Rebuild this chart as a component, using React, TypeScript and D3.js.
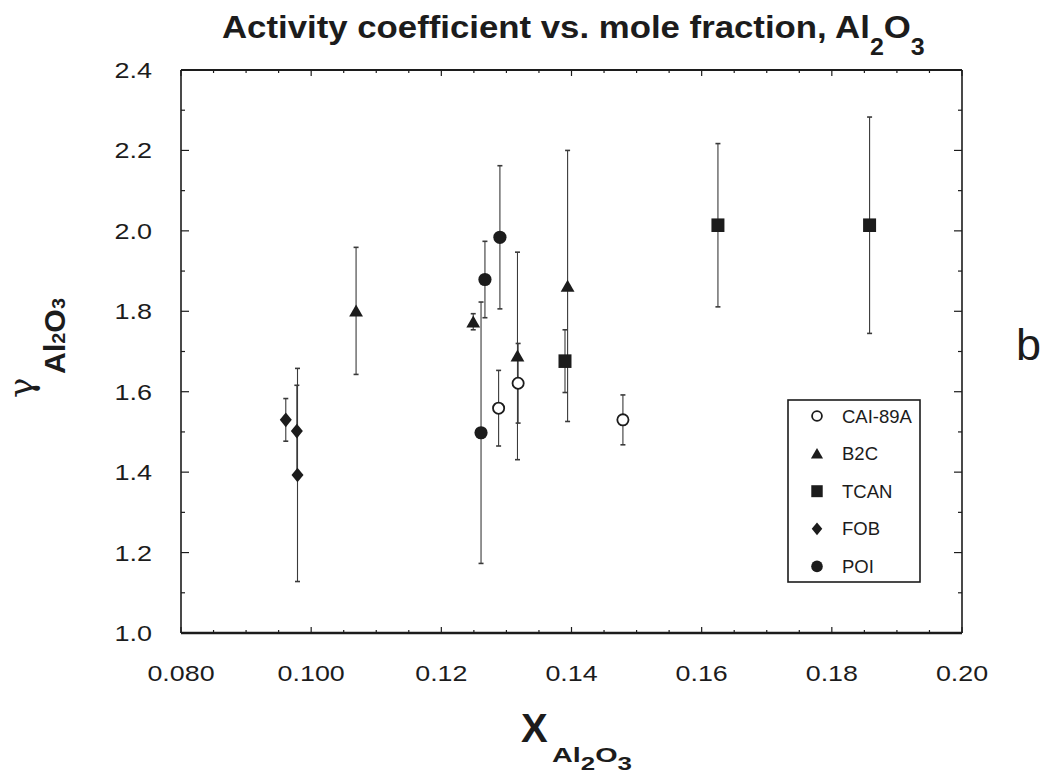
import React, { useEffect, useRef } from "react";
import * as d3 from "d3";

const W = 1050;
const H = 774;

// ---- data ----
const seriesNames = ["CAI-89A", "B2C", "TCAN", "FOB", "POI"];
const seriesShapes = ["openCircle", "triangle", "square", "diamond", "circle"];

const caiX = [0.1288, 0.1318, 0.1479];
const caiY = [1.559, 1.621, 1.53];
const caiErr = [0.094, 0.099, 0.062];

const b2cX = [0.1069, 0.1249, 0.1317, 0.1394];
const b2cY = [1.801, 1.774, 1.689, 1.863];
const b2cErr = [0.158, 0.02, 0.258, 0.337];

const tcanX = [0.139, 0.1625, 0.1858];
const tcanY = [1.676, 2.014, 2.014];
const tcanErr = [0.078, 0.203, 0.269];

const fobX = [0.0961, 0.0978, 0.0979];
const fobY = [1.53, 1.502, 1.393];
const fobErr = [0.053, 0.114, 0.265];

const poiX = [0.1261, 0.1267, 0.129];
const poiY = [1.498, 1.879, 1.984];
const poiErr = [0.325, 0.095, 0.178];

const xTicks = [0.08, 0.1, 0.12, 0.14, 0.16, 0.18, 0.2];
const xTickLabels = ["0.080", "0.100", "0.12", "0.14", "0.16", "0.18", "0.20"];
const yTicks = [1.0, 1.2, 1.4, 1.6, 1.8, 2.0, 2.2, 2.4];
const yTickLabels = ["1.0", "1.2", "1.4", "1.6", "1.8", "2.0", "2.2", "2.4"];

const X_DOMAIN = [0.08, 0.2];
const Y_DOMAIN = [1.0, 2.4];

const INK = "#1c1c1c";
const FONT = "'Liberation Sans', Arial, Helvetica, sans-serif";

function markerPath(shape: string, s: number): string {
  const p = d3.path();
  if (shape === "triangle") {
    p.moveTo(0, -6.3 * s);
    p.lineTo(6.9 * s, 5.7 * s);
    p.lineTo(-6.9 * s, 5.7 * s);
    p.closePath();
  } else if (shape === "square") {
    p.rect(-6.5 * s, -6.8 * s, 13 * s, 13.6 * s);
  } else if (shape === "diamond") {
    p.moveTo(0, -7.3 * s);
    p.lineTo(6 * s, 0);
    p.lineTo(0, 7.3 * s);
    p.lineTo(-6 * s, 0);
    p.closePath();
  }
  return p.toString();
}

function drawMarker(g: any, shape: string, cx: number, cy: number, s = 1) {
  if (shape === "openCircle") {
    g.append("circle")
      .attr("cx", cx)
      .attr("cy", cy)
      .attr("r", 5.6 * s)
      .attr("fill", "#fff")
      .attr("stroke", INK)
      .attr("stroke-width", 1.8);
  } else if (shape === "circle") {
    g.append("circle")
      .attr("cx", cx)
      .attr("cy", cy)
      .attr("r", 6.6 * s)
      .attr("fill", INK);
  } else {
    g.append("path")
      .attr("d", markerPath(shape, s))
      .attr("transform", `translate(${cx},${cy})`)
      .attr("fill", INK);
  }
}

export default function App() {
  const ref = useRef<SVGSVGElement | null>(null);

  useEffect(() => {
    const svg = d3.select(ref.current);
    svg.selectAll("*").remove();

    const left = 181,
      right = 962,
      top = 70,
      bottom = 633;
    const x = d3.scaleLinear().domain(X_DOMAIN).range([left, right]);
    const y = d3.scaleLinear().domain(Y_DOMAIN).range([bottom, top]);

    svg.append("rect").attr("width", W).attr("height", H).attr("fill", "#fff");

    // ---- title ----
    const title = svg
      .append("text")
      .attr("font-family", FONT)
      .attr("font-weight", "bold")
      .attr("fill", INK)
      .attr("font-size", 32);
    title.append("tspan").text("Activity coefficient vs. mole fraction, Al");
    title.append("tspan").attr("font-size", 23).attr("dy", 17).text("2");
    title.append("tspan").attr("dy", -17).text("O");
    title.append("tspan").attr("font-size", 23).attr("dy", 17).text("3");
    const tw = (title.node() as SVGTextElement).getBBox().width;
    title.attr("transform", `translate(222,38) scale(${703 / tw},1)`);

    // ---- frame ----
    const frame = svg.append("g").attr("stroke", INK).attr("fill", "none");
    frame
      .append("line")
      .attr("x1", left)
      .attr("x2", right)
      .attr("y1", top)
      .attr("y2", top)
      .attr("stroke-width", 2.2);
    frame
      .append("line")
      .attr("x1", left)
      .attr("x2", right)
      .attr("y1", bottom)
      .attr("y2", bottom)
      .attr("stroke-width", 2.4);
    frame
      .append("line")
      .attr("x1", left)
      .attr("x2", left)
      .attr("y1", top)
      .attr("y2", bottom)
      .attr("stroke-width", 1.6);
    frame
      .append("line")
      .attr("x1", right)
      .attr("x2", right)
      .attr("y1", top)
      .attr("y2", bottom)
      .attr("stroke-width", 1.6);

    // ---- ticks ----
    const xMinor = d3.range(0, 25).map((i) => 0.08 + i * 0.005);
    const yMinor = d3.range(0, 15).map((i) => 1.0 + i * 0.1);
    const tg = svg.append("g").attr("stroke", INK).attr("stroke-width", 1.2);
    xMinor.forEach((v, i) => {
      const len = i % 4 === 0 ? 6 : 3;
      const px = x(v);
      tg.append("line").attr("x1", px).attr("x2", px).attr("y1", bottom).attr("y2", bottom - len);
      tg.append("line").attr("x1", px).attr("x2", px).attr("y1", top).attr("y2", top + len);
    });
    yMinor.forEach((v, i) => {
      const len = i % 2 === 0 ? 8 : 4;
      const py = y(v);
      tg.append("line").attr("x1", left).attr("x2", left + len).attr("y1", py).attr("y2", py);
      tg.append("line").attr("x1", right).attr("x2", right - len).attr("y1", py).attr("y2", py);
    });

    // tick labels
    xTicks.forEach((v, i) => {
      svg
        .append("text")
        .attr("transform", `translate(${x(v)},681) scale(1.22,1)`)
        .attr("text-anchor", "middle")
        .attr("font-family", FONT)
        .attr("font-size", 22)
        .attr("fill", INK)
        .text(xTickLabels[i]);
    });
    yTicks.forEach((v, i) => {
      svg
        .append("text")
        .attr("transform", `translate(152,${y(v) + 8}) scale(1.2,1)`)
        .attr("text-anchor", "end")
        .attr("font-family", FONT)
        .attr("font-size", 22.5)
        .attr("fill", INK)
        .text(yTickLabels[i]);
    });

    // ---- axis titles ----
    const xl = svg.append("g").attr("font-family", FONT).attr("font-weight", "bold").attr("fill", INK);
    xl.append("text").attr("x", 521).attr("y", 742).attr("font-size", 40).text("X");
    const xs = xl.append("text").attr("x", 552).attr("y", 762).attr("font-size", 20);
    xs.append("tspan").text("Al");
    xs.append("tspan").attr("font-size", 18).attr("dy", 8).text("2");
    xs.append("tspan").attr("dy", -8).text("O");
    xs.append("tspan").attr("font-size", 18).attr("dy", 8).text("3");
    const xsw = (xs.node() as SVGTextElement).getBBox().width;
    xs.attr("transform", `translate(552,762) scale(${80 / xsw},1) translate(-552,-762)`);

    const yl = svg.append("g").attr("fill", INK);
    yl.append("text")
      .attr("transform", "translate(33,398) rotate(-90)")
      .attr("font-family", "'DejaVu Serif', 'Liberation Serif', serif")
      .attr("font-size", 34)
      .text("γ");
    const ys = yl
      .append("text")
      .attr("font-family", FONT)
      .attr("font-weight", "bold")
      .attr("font-size", 29);
    ys.append("tspan").text("Al");
    ys.append("tspan").attr("font-size", 19).text("2");
    ys.append("tspan").text("O");
    ys.append("tspan").attr("font-size", 19).text("3");
    const ysw = (ys.node() as SVGTextElement).getBBox().width;
    ys.attr("transform", `translate(65,374) rotate(-90) scale(${76 / ysw},1)`);

    // panel letter
    svg
      .append("text")
      .attr("x", 1016)
      .attr("y", 360)
      .attr("font-family", FONT)
      .attr("font-size", 45)
      .attr("fill", INK)
      .text("b");

    // ---- data ----
    const series = [
      { xs: caiX, ys: caiY, es: caiErr },
      { xs: b2cX, ys: b2cY, es: b2cErr },
      { xs: tcanX, ys: tcanY, es: tcanErr },
      { xs: fobX, ys: fobY, es: fobErr },
      { xs: poiX, ys: poiY, es: poiErr },
    ];

    const eb = svg.append("g").attr("stroke", "#3a3a3a").attr("stroke-width", 1.1);
    series.forEach((s) => {
      s.xs.forEach((xv, i) => {
        const px = x(xv);
        const y1 = y(s.ys[i] + s.es[i]);
        const y2 = y(s.ys[i] - s.es[i]);
        eb.append("line").attr("x1", px).attr("x2", px).attr("y1", y1).attr("y2", y2);
        eb.append("line").attr("x1", px - 2.5).attr("x2", px + 2.5).attr("y1", y1).attr("y2", y1).attr("stroke-width", 1.6);
        eb.append("line").attr("x1", px - 2.5).attr("x2", px + 2.5).attr("y1", y2).attr("y2", y2).attr("stroke-width", 1.6);
      });
    });

    const mk = svg.append("g");
    series.forEach((s, k) => {
      s.xs.forEach((xv, i) => drawMarker(mk, seriesShapes[k], x(xv), y(s.ys[i])));
    });

    // ---- legend ----
    const lg = svg.append("g");
    lg.append("rect")
      .attr("x", 788)
      .attr("y", 400)
      .attr("width", 132)
      .attr("height", 182)
      .attr("fill", "#fff")
      .attr("stroke", INK)
      .attr("stroke-width", 1.6);
    seriesNames.forEach((name, k) => {
      const ly = 416 + k * 37.6;
      drawMarker(lg, seriesShapes[k], 817, ly, 0.88);
      lg.append("text")
        .attr("x", 842)
        .attr("y", ly + 6.5)
        .attr("font-family", FONT)
        .attr("font-size", 18.5)
        .attr("fill", INK)
        .text(name);
    });
  }, []);

  return (
    <svg
      ref={ref}
      width={W}
      height={H}
      viewBox={`0 0 ${W} ${H}`}
      style={{ position: "absolute", left: 0, top: 0, display: "block" }}
    />
  );
}
